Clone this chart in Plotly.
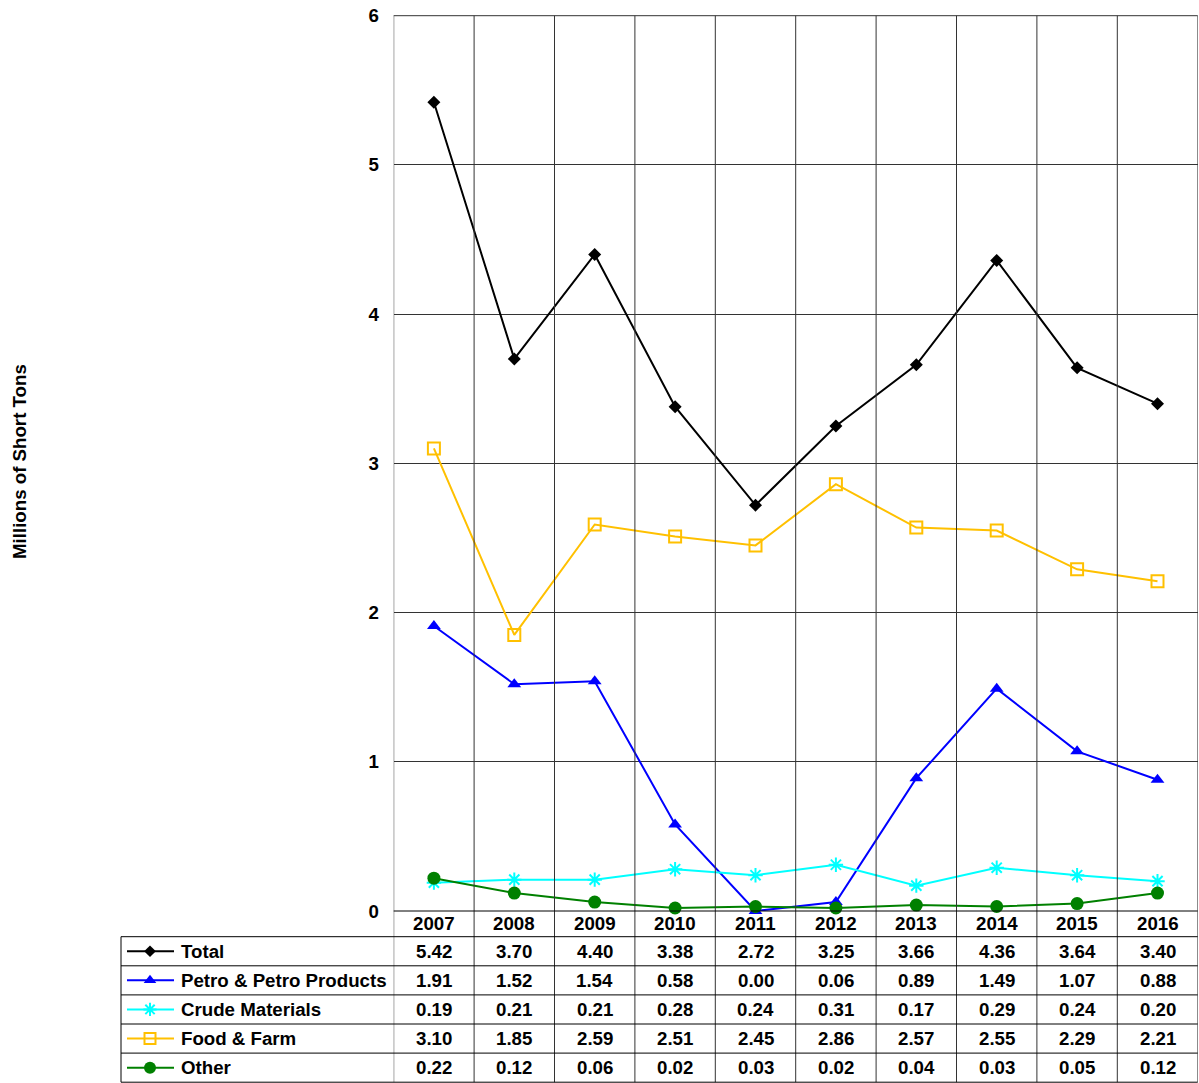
import plotly.graph_objects as go

W, H = 1199, 1083

years = ["2007", "2008", "2009", "2010", "2011", "2012", "2013", "2014", "2015", "2016"]
series_names = ["Total", "Petro & Petro Products", "Crude Materials", "Food & Farm", "Other"]
total = [5.42, 3.70, 4.40, 3.38, 2.72, 3.25, 3.66, 4.36, 3.64, 3.40]
petro = [1.91, 1.52, 1.54, 0.58, 0.00, 0.06, 0.89, 1.49, 1.07, 0.88]
crude = [0.19, 0.21, 0.21, 0.28, 0.24, 0.31, 0.17, 0.29, 0.24, 0.20]
food = [3.10, 1.85, 2.59, 2.51, 2.45, 2.86, 2.57, 2.55, 2.29, 2.21]
other = [0.22, 0.12, 0.06, 0.02, 0.03, 0.02, 0.04, 0.03, 0.05, 0.12]
y_ticks = [0, 1, 2, 3, 4, 5, 6]

series_values = [total, petro, crude, food, other]
colors = ["#000000", "#0000FF", "#00FFFF", "#FFC000", "#008000"]
symbols = ["diamond", "triangle-up", "asterisk-open", "square-open", "circle"]
sizes = [10, 12, 12, 12, 13]

FONT = "Liberation Sans, Arial, sans-serif"
FS = 18.7
GRID = "#333333"

# pixel layout
PL, PR, PT, PB = 393.7, 1197.7, 15.7, 911.0
TL = 121.0
row_edges = [936.7, 965.8, 994.9, 1024.0, 1053.1, 1082.2]

idx = list(range(len(years)))
fig = go.Figure()

for name, vals, c, s, sz in zip(series_names, series_values, colors, symbols, sizes):
    fig.add_trace(go.Scatter(
        x=idx, y=vals, mode="lines+markers", name=name,
        line=dict(color=c, width=2),
        marker=dict(symbol=s, size=sz, color=c,
                    line=dict(color=c, width=2 if "open" in s else 0)),
        cliponaxis=False, showlegend=False, xaxis="x", yaxis="y"))

# legend keys in table (pixel overlay axes)
for i, (c, s, sz) in enumerate(zip(colors, symbols, sizes)):
    yc = (row_edges[i] + row_edges[i + 1]) / 2
    fig.add_trace(go.Scatter(
        x=[127, 150, 174], y=[yc, yc, yc], mode="lines",
        line=dict(color=c, width=2), showlegend=False, hoverinfo="skip",
        xaxis="x2", yaxis="y2"))
    fig.add_trace(go.Scatter(
        x=[150], y=[yc], mode="markers",
        marker=dict(symbol=s, size=sz - 1, color=c,
                    line=dict(color=c, width=2 if "open" in s else 0)),
        showlegend=False, hoverinfo="skip", xaxis="x2", yaxis="y2"))

shapes = []
# vertical lines through plot and table
for k in range(len(years) + 1):
    shapes.append(dict(type="line", xref="x", yref="y2", x0=k - 0.5, x1=k - 0.5,
                       y0=PT, y1=row_edges[-1], line=dict(color=GRID, width=1)))
# top border of plot
shapes.append(dict(type="line", xref="x2", yref="y2", x0=PL, x1=PR, y0=PT, y1=PT,
                   line=dict(color=GRID, width=1)))
# zero line / header top
shapes.append(dict(type="line", xref="x2", yref="y2", x0=PL, x1=PR, y0=PB, y1=PB,
                   line=dict(color="#000000", width=1)))
# table horizontal lines
for ye in row_edges:
    shapes.append(dict(type="line", xref="x2", yref="y2", x0=TL, x1=PR, y0=ye, y1=ye,
                       line=dict(color="#000000", width=1)))
# table left border
shapes.append(dict(type="line", xref="x2", yref="y2", x0=TL, x1=TL,
                   y0=row_edges[0], y1=row_edges[-1], line=dict(color="#000000", width=1)))

annotations = []
tf = dict(family=FONT, size=FS, color="#000000", weight="bold")
for i, yr in enumerate(years):
    annotations.append(dict(text=yr, x=i, xref="x", y=(PB + row_edges[0]) / 2, yref="y2",
                            showarrow=False, font=tf, xanchor="center", yanchor="middle"))
for r, (name, vals) in enumerate(zip(series_names, series_values)):
    yc = (row_edges[r] + row_edges[r + 1]) / 2
    annotations.append(dict(text=name, x=179, xref="x2", y=yc, yref="y2",
                            showarrow=False, font=tf, xanchor="left", yanchor="middle"))
    for i, v in enumerate(vals):
        annotations.append(dict(text=f"{v:.2f}", x=i, xref="x", y=yc, yref="y2",
                                showarrow=False, font=tf, xanchor="center", yanchor="middle"))
annotations.append(dict(text="Millions of Short Tons", x=19, xref="x2", y=462, yref="y2",
                        textangle=-90, showarrow=False, font=tf,
                        xanchor="center", yanchor="middle"))

fig.update_layout(
    width=W, height=H,
    margin=dict(l=0, r=0, t=0, b=0, autoexpand=False),
    paper_bgcolor="white", plot_bgcolor="rgba(0,0,0,0)",
    showlegend=False,
    xaxis=dict(domain=[PL / W, PR / W], range=[-0.5, len(years) - 0.5],
               showgrid=False, zeroline=False, showticklabels=False, ticks="",
               showline=False, fixedrange=True),
    yaxis=dict(domain=[1 - PB / H, 1 - PT / H], range=[0, 6], tickvals=y_ticks,
               showgrid=True, gridcolor=GRID, gridwidth=1, zeroline=False,
               showline=False, ticks="outside", ticklen=10, tickcolor="rgba(0,0,0,0)",
               tickfont=tf, fixedrange=True),
    xaxis2=dict(domain=[0, 1], range=[0, W], visible=False, anchor="y2", fixedrange=True),
    yaxis2=dict(domain=[0, 1], range=[H, 0], visible=False, anchor="x2", fixedrange=True),
    shapes=shapes, annotations=annotations,
)

fig.write_html("out.html", config={"displayModeBar": False},
               post_script="document.body.style.margin='0';document.body.style.overflow='hidden';")
